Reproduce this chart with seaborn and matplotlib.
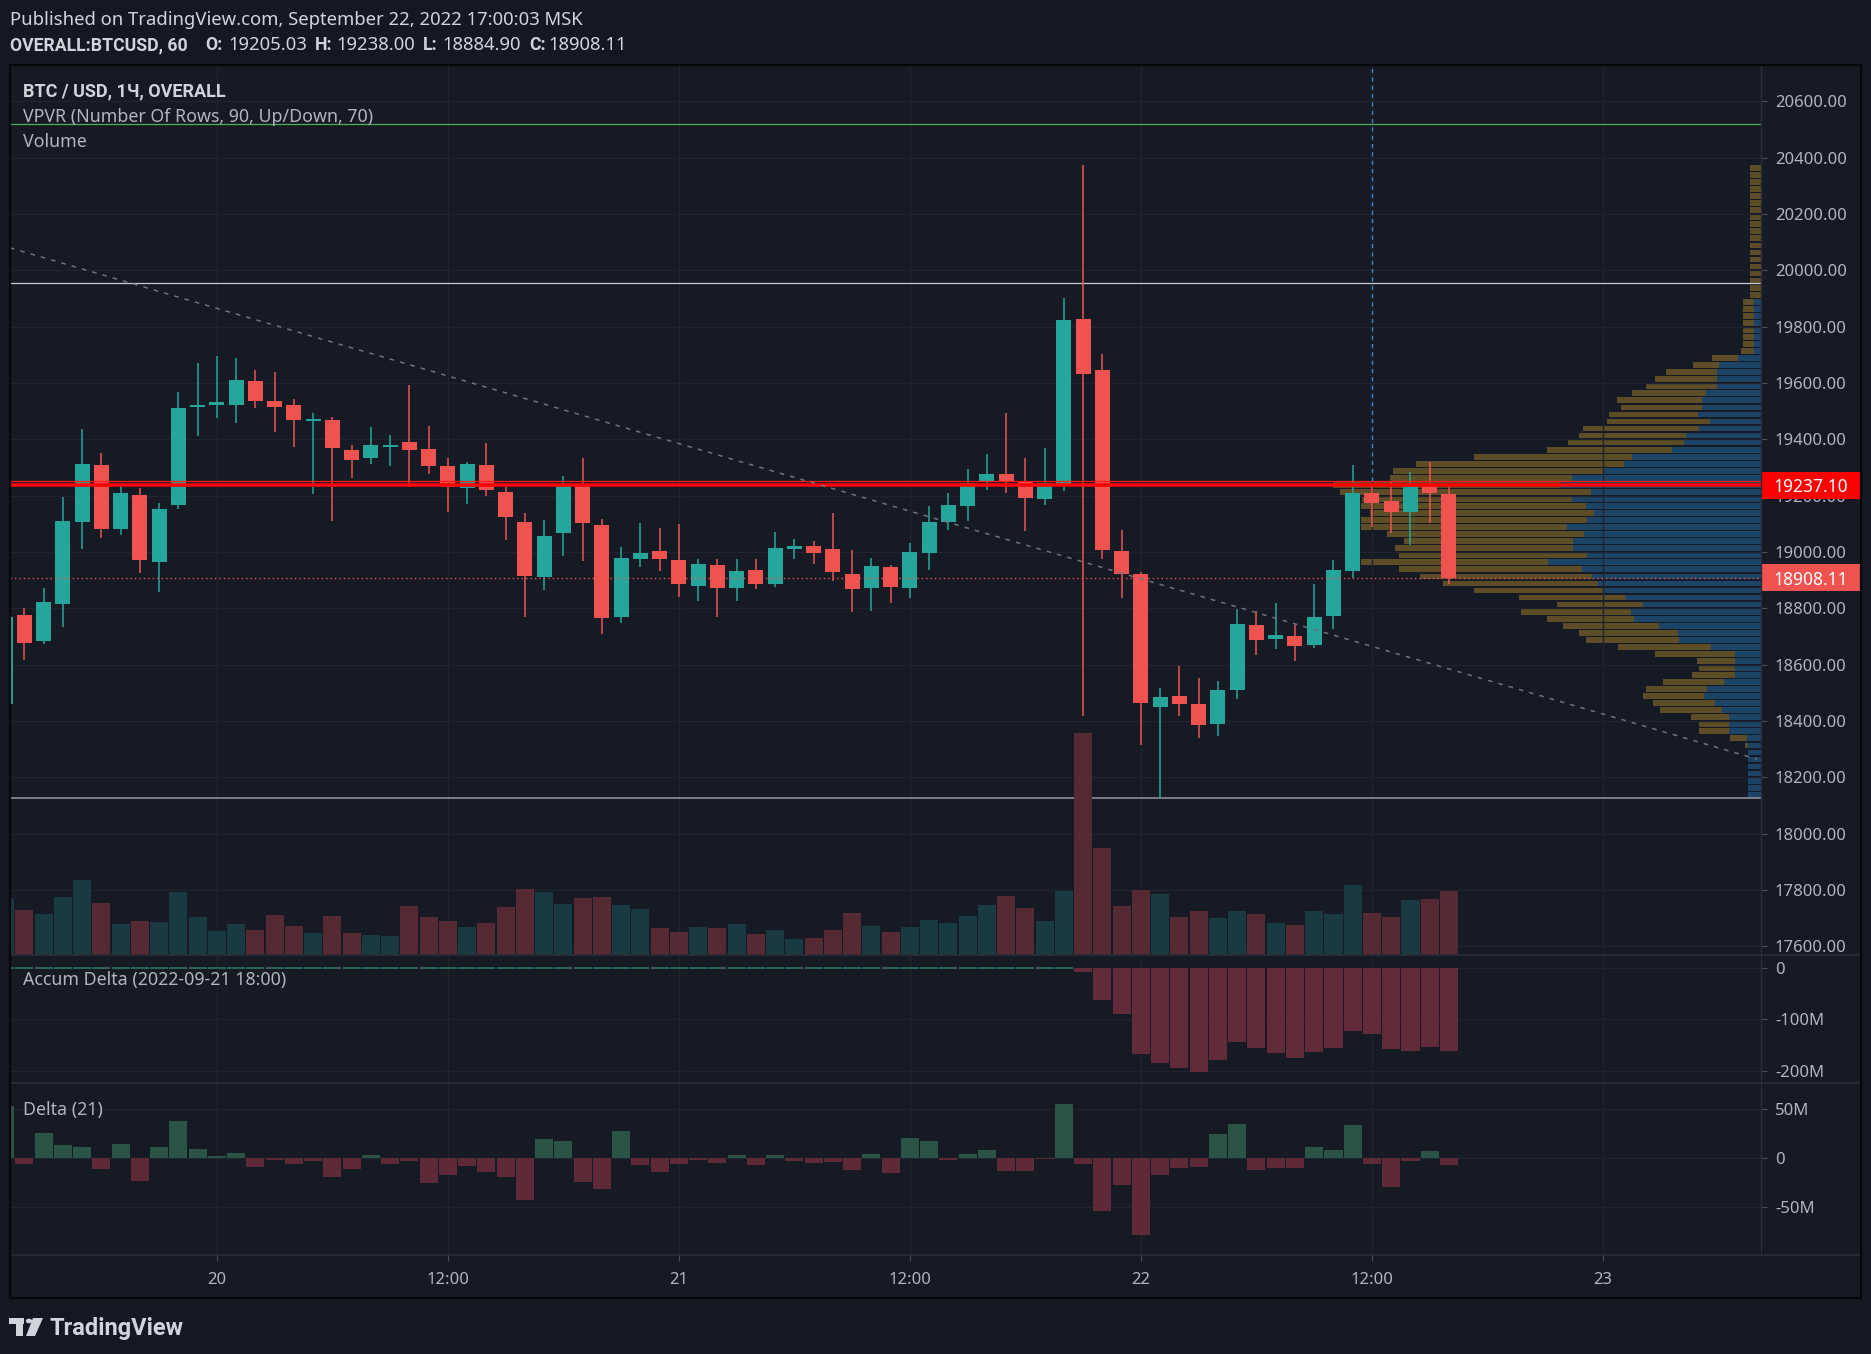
import numpy as np
import pandas as pd
import matplotlib
matplotlib.use("Agg")
import matplotlib.pyplot as plt
import matplotlib.transforms as mtransforms
from matplotlib.patches import Rectangle, Polygon, Circle
from matplotlib.lines import Line2D
import seaborn as sns

# ---------------------------------------------------------------- data
bar_start = "2022-09-19 13:00"
n_bars = 76
ref_time = "2022-09-22 00:00"

opens = [18460, 18776, 18685, 18817, 19108, 19309, 19083, 19202, 18966, 19168,
         19516, 19523, 19523, 19607, 19536, 19522, 19466, 19469, 19362, 19335,
         19372, 19390, 19366, 19305, 19228, 19309, 19213, 19107, 18912, 19069,
         19241, 19096, 18770, 18976, 19004, 18972, 18881, 18954, 18873, 18936,
         18888, 19012, 19021, 19011, 18922, 18873, 18947, 18873, 18998, 19108,
         19165, 19250, 19277, 19252, 19189, 19239, 19828, 19646, 19004, 18922,
         18450, 18489, 18461, 18390, 18510, 18741, 18693, 18702, 18670, 18774,
         18933, 19210, 19181, 19142, 19235, 19205.03]
highs = [18790, 18800, 18871, 19195, 19437, 19351, 19237, 19226, 19174, 19568,
         19671, 19696, 19689, 19646, 19639, 19543, 19493, 19479, 19380, 19444,
         19415, 19593, 19447, 19334, 19320, 19387, 19241, 19138, 19114, 19270,
         19334, 19117, 19018, 19103, 19085, 19099, 18975, 18975, 18975, 18975,
         19071, 19046, 19039, 19138, 19007, 18979, 18954, 19032, 19163, 19210,
         19295, 19348, 19493, 19334, 19369, 19902, 20374, 19703, 19078, 18928,
         18517, 18595, 18553, 18542, 18798, 18791, 18819, 18741, 18886, 18972,
         19309, 19237, 19248, 19283, 19320, 19238.00]
lows = [18440, 18617, 18673, 18735, 19011, 19051, 19062, 18927, 18859, 19154,
        19413, 19477, 19459, 19512, 19427, 19374, 19207, 19111, 19264, 19314,
        19306, 19232, 19278, 19143, 19172, 19200, 19044, 18770, 18866, 18987,
        18969, 18710, 18749, 18948, 18934, 18841, 18827, 18770, 18827, 18870,
        18877, 18976, 18959, 18898, 18788, 18792, 18820, 18838, 18937, 19079,
        19111, 19221, 19211, 19076, 19168, 19218, 18418, 18976, 18838, 18316,
        18126, 18418, 18340, 18347, 18478, 18634, 18656, 18614, 18660, 18727,
        18907, 19089, 19067, 19026, 19103, 18884.90]
closes = [18770, 18678, 18822, 19110, 19312, 19083, 19210, 18973, 19153, 19511,
          19522, 19533, 19611, 19537, 19516, 19470, 19473, 19370, 19328, 19380,
          19380, 19363, 19306, 19232, 19312, 19221, 19125, 18916, 19057, 19241,
          19104, 18767, 18979, 18996, 18976, 18888, 18957, 18873, 18933, 18888,
          19014, 19021, 18998, 18930, 18870, 18950, 18877, 19000, 19107, 19167,
          19245, 19277, 19250, 19193, 19245, 19824, 19633, 19008, 18923, 18464,
          18485, 18461, 18386, 18510, 18745, 18688, 18705, 18666, 18769, 18936,
          19210, 19173, 19142, 19231, 19210, 18908.11]
volume = [166, 131, 120, 169, 218, 152, 91, 99, 96, 183,
          111, 70, 91, 73, 117, 85, 64, 114, 64, 59,
          56, 143, 111, 99, 82, 93, 140, 192, 184, 149,
          166, 169, 146, 134, 79, 67, 82, 79, 91, 62,
          73, 47, 50, 73, 122, 85, 67, 82, 102, 93,
          114, 146, 172, 137, 99, 187, 645, 311, 143, 189,
          178, 111, 128, 108, 128, 120, 93, 88, 128, 120,
          204, 122, 111, 160, 163, 186]
delta_m = [53, -6.5, 25, 13, 11, -11, 14, -23, 11, 37,
           9, 2, 5, -8.6, -2, -6.5, -3.5, -19, -11, 3,
           -6, -3.5, -25, -17, -8, -14, -19, -42, 19, 17,
           -24, -31, 27, -7, -14, -6, -2, -5, 3, -7,
           3, -3, -5, -4, -12, 4, -15, 20, 17, -2,
           4, 8, -13, -13, -1, 55, -6.5, -54, -27, -78,
           -17, -10, -9, 24.5, 34, -12, -10, -10, 11, 8,
           33, -6.5, -29, -3.5, 7, -7.5]
accum_delta_m = [0, 0, 0, 0, 0, 0, 0, 0, 0, 0,
                 0, 0, 0, 0, 0, 0, 0, 0, 0, 0,
                 0, 0, 0, 0, 0, 0, 0, 0, 0, 0,
                 0, 0, 0, 0, 0, 0, 0, 0, 0, 0,
                 0, 0, 0, 0, 0, 0, 0, 0, 0, 0,
                 0, 0, 0, 0, 0, 0, -7, -62, -89, -167,
                 -185, -194, -202, -179, -144, -155, -165, -174, -163, -155,
                 -122, -128, -157, -161, -154, -161]

# Volume profile (90 rows from the visible low, bottom -> top)
vp_low = 18126.0
vp_row = 25.0
vp_total = [36, 36, 36, 36, 36, 36, 36, 45, 87, 174,
            174, 196, 283, 302, 330, 322, 274, 193, 174, 179,
            297, 400, 490, 510, 554, 599, 672, 571, 678, 804,
            890, 955, 1014, 1121, 1014, 1025, 1000, 1047, 1121, 1121,
            1095, 1121, 1118, 1179, 1198, 1039, 1030, 966, 804, 599,
            540, 510, 498, 431, 426, 392, 403, 361, 322, 297,
            266, 190, 137, 56, 50, 50, 50, 50, 50, 50,
            50, 30, 30, 30, 30, 30, 30, 30, 30, 30,
            30, 30, 30, 30, 30, 30, 30, 30, 30, 30]
vp_up = [36, 36, 36, 36, 36, 36, 36, 36, 39, 90,
         90, 90, 109, 129, 160, 151, 104, 73, 73, 73,
         73, 140, 230, 232, 286, 356, 364, 330, 378, 440,
         456, 473, 501, 596, 487, 526, 526, 496, 543, 487,
         468, 490, 529, 476, 563, 529, 442, 384, 361, 249,
         216, 210, 174, 143, 176, 165, 165, 154, 123, 123,
         123, 118, 64, 20, 20, 20, 20, 20, 20, 20,
         20, 0, 0, 0, 0, 0, 0, 0, 0, 0,
         0, 0, 0, 0, 0, 0, 0, 0, 0, 0]

price_ticks = [20600, 20400, 20200, 20000, 19800, 19600, 19400, 19200, 19000,
               18800, 18600, 18400, 18200, 18000, 17800, 17600]
acc_ticks = [0, -100, -200]
acc_labels = ["0", "-100M", "-200M"]
delta_ticks = [50, 0, -50]
delta_labels = ["50M", "0", "-50M"]
time_ticks = ["2022-09-20 00:00", "2022-09-20 12:00", "2022-09-21 00:00",
              "2022-09-21 12:00", "2022-09-22 00:00", "2022-09-22 12:00",
              "2022-09-23 00:00"]
time_labels = ["20", "12:00", "21", "12:00", "22", "12:00", "23"]

poc_price = 19237.10
vah_price = 19253.0
last_price = 18908.11
green_level = 20519.0
white_level = 19955.0
low_level = 18126.0
trend_times = ["2022-09-19 13:15", "2022-09-23 08:00"]
trend_prices = [20080.0, 18265.0]
crosshair_time = "2022-09-22 12:00"

# ---------------------------------------------------------------- prep
t0 = pd.Timestamp(ref_time)
times = pd.date_range(bar_start, periods=n_bars, freq="h")
hrs = ((times - t0) / pd.Timedelta(hours=1)).to_numpy(dtype=float)
def to_h(ts):
    return (pd.to_datetime(ts) - t0) / pd.Timedelta(hours=1)
tick_h = np.array([to_h(s) for s in time_ticks])
trend_h = np.array([to_h(s) for s in trend_times])

o = np.array(opens, float); h = np.array(highs, float)
l = np.array(lows, float); c = np.array(closes, float)
up = c >= o
df = pd.DataFrame({"t": hrs, "volume": volume, "delta": delta_m,
                   "accum": accum_delta_m,
                   "dir": np.where(up, "up", "down"),
                   "dsign": np.where(np.array(delta_m) >= 0, "pos", "neg")})

# ---------------------------------------------------------------- style
W, H = 1871, 1354
BG = "#141823"; PANE = "#161a25"; GRID = "#20242f"; SEP = "#2a2e39"
TXT = "#b2b5be"; HDR = "#d1d4dc"
UPC = "#26a69a"; DNC = "#ef5350"
VOL_UP = "#1a3a42"; VOL_DN = "#552a33"
DEL_UP = "#2a5446"; DEL_DN = "#5e2a38"; ACC_DN = "#622b3a"
VP_DN = "#5c4d26"; VP_UP = "#1c4466"
BOLD_FAM = ["Roboto", "DejaVu Sans"]

sns.set_theme(style="dark")
plt.rcParams["font.family"] = ["Noto Sans", "DejaVu Sans"]
plt.rcParams["axes.unicode_minus"] = False

fig = plt.figure(figsize=(W / 100, H / 100), dpi=100, facecolor=BG)

def fx(x): return x / W
def fy(y): return 1 - y / H
def rect(x0, y0, x1, y1): return [x0 / W, 1 - y1 / H, (x1 - x0) / W, (y1 - y0) / H]

L, R, FR = 10, 1761, 1861
TOP, MAIN_B, ACC_B, DEL_B, FRAME_B = 65, 955, 1083, 1255, 1298
XL, XR = -58.75, 32.21
YL, YT = 17569.5, 20729.0

fig.add_artist(Rectangle((fx(L), fy(FRAME_B)), fx(FR) - fx(L), fy(TOP) - fy(FRAME_B),
                         transform=fig.transFigure, facecolor=PANE, edgecolor="none", zorder=-5))

ax_vp = fig.add_axes(rect(L, TOP, R, MAIN_B), zorder=1)
ax_main = fig.add_axes(rect(L, TOP, R, MAIN_B), zorder=2)
ax_vol = ax_main.twinx()
ax_vol.set_zorder(3)
ax_acc = fig.add_axes(rect(L, MAIN_B, R, ACC_B), zorder=2)
ax_del = fig.add_axes(rect(L, ACC_B, R, DEL_B), zorder=2)

for a in (ax_vp, ax_main, ax_vol, ax_acc, ax_del):
    for s in a.spines.values():
        s.set_visible(False)
ax_vp.set_facecolor(PANE)
ax_main.set_facecolor("none")
ax_vol.set_facecolor("none")
ax_acc.set_facecolor(PANE)
ax_del.set_facecolor(PANE)

# ---------------------------------------------------------------- volume profile
rows = vp_low + vp_row * (np.arange(len(vp_total)) + 0.5)
ax_vp.barh(rows, vp_total, height=vp_row * 0.82, left=0, color=VP_DN, linewidth=0)
ax_vp.barh(rows, vp_up, height=vp_row * 0.82, left=0, color=VP_UP, linewidth=0)
ax_vp.set_xlim((R - L) * 2.8, 0)
ax_vp.set_ylim(YL, YT)
ax_vp.set_xticks([]); ax_vp.set_yticks([])

# ---------------------------------------------------------------- price pane
ax_main.set_axisbelow(True)
ax_main.grid(True, color=GRID, lw=1.0)
cols = np.where(up, UPC, DNC)
ax_main.vlines(hrs, l, h, colors=cols, lw=1.1, zorder=3)
ax_main.bar(hrs, np.maximum(np.abs(c - o), 4.0), bottom=np.minimum(o, c),
            width=0.78, color=cols, linewidth=0, zorder=4)

ax_main.axhline(green_level, color="#4caf50", lw=0.9, zorder=2)
ax_main.axhline(white_level, color="#c8cbd3", lw=0.9, zorder=2)
ax_main.axhline(low_level, color="#9598a1", lw=1.1, zorder=2)
ax_main.axhline(vah_price, color="#ff1a1a", lw=0.9, zorder=5)
ax_main.axhline(poc_price, color="#ff0000", lw=2.6, zorder=5)
ax_main.axhline(last_price, color=DNC, lw=1.0, ls=(0, (1, 2.2)), zorder=5)
ax_main.plot(trend_h, trend_prices, color="#6f727d", lw=1.1, ls=(0, (3, 4)), zorder=5)
ax_main.vlines(to_h(crosshair_time), vah_price, YT, color="#3f86cc", lw=1.0,
               ls=(0, (3, 3)), zorder=5)

ax_main.set_xlim(XL, XR)
ax_main.set_ylim(YL, YT)
ax_main.set_xticks(tick_h)
ax_main.set_xticklabels([])
ax_main.set_yticks(price_ticks)
ax_main.set_yticklabels([f"{p:.2f}" for p in price_ticks])
ax_main.yaxis.tick_right()
ax_main.tick_params(axis="y", which="both", right=True, left=False, length=4.3, width=0.8,
                    color="#4a4e59", pad=5.8, labelsize=12, labelcolor=TXT)
ax_main.tick_params(axis="x", length=0)

# volume (seaborn)
sns.barplot(data=df, x="t", y="volume", hue="dir", hue_order=["up", "down"],
            palette={"up": VOL_UP, "down": VOL_DN}, native_scale=True, dodge=False,
            width=0.94, saturation=1, errorbar=None, legend=False, linewidth=0, ax=ax_vol)
ax_vol.set_ylim(0, (MAIN_B - TOP) * 2.904)
ax_vol.set_yticks([])
ax_vol.set_xlabel(""); ax_vol.set_ylabel("")
ax_main.set_xlim(XL, XR)

# price label boxes
blend = mtransforms.blended_transform_factory(ax_main.transAxes, ax_main.transData)
bw = (FR - R) / (R - L)
for price, bg in ((poc_price, "#ff0000"), (last_price, DNC)):
    ax_main.add_patch(Rectangle((1.0, price - 48), bw, 96, transform=blend,
                                facecolor=bg, edgecolor="none", clip_on=False, zorder=8))
    ax_main.text(1.0 + bw / 2, price, f"{price:.2f}", transform=blend, ha="center",
                 va="center_baseline", color="white", fontsize=12.5, clip_on=False, zorder=9)

# ---------------------------------------------------------------- accum delta
nz = df[df["accum"] != 0]
zr = df[df["accum"] == 0]
sns.barplot(data=nz, x="t", y="accum", color=ACC_DN, native_scale=True, width=0.94,
            saturation=1, errorbar=None, linewidth=0, ax=ax_acc)
ax_acc.hlines(np.zeros(len(zr)), zr["t"] - 0.47, zr["t"] + 0.47, color="#2f6a55", lw=1.3)
ax_acc.set_axisbelow(True)
ax_acc.grid(True, color=GRID, lw=1.0)
ax_acc.set_xlim(XL, XR)
ax_acc.set_ylim(-223.3, 25.2)
ax_acc.set_xticks(tick_h); ax_acc.set_xticklabels([])
ax_acc.set_yticks(acc_ticks); ax_acc.set_yticklabels(acc_labels)
ax_acc.yaxis.tick_right()
ax_acc.tick_params(axis="y", right=True, left=False, length=4.3, width=0.8, color="#4a4e59",
                   pad=5.8, labelsize=12, labelcolor=TXT)
ax_acc.tick_params(axis="x", length=0)
ax_acc.set_xlabel(""); ax_acc.set_ylabel("")

# ---------------------------------------------------------------- delta
sns.barplot(data=df, x="t", y="delta", hue="dsign", hue_order=["pos", "neg"],
            palette={"pos": DEL_UP, "neg": DEL_DN}, native_scale=True, dodge=False,
            width=0.94, saturation=1, errorbar=None, legend=False, linewidth=0, ax=ax_del)
ax_del.set_axisbelow(True)
ax_del.grid(True, color=GRID, lw=1.0)
ax_del.set_xlim(XL, XR)
ax_del.set_ylim(-98, 75.8)
ax_del.set_yticks(delta_ticks); ax_del.set_yticklabels(delta_labels)
ax_del.yaxis.tick_right()
ax_del.tick_params(axis="y", right=True, left=False, length=4.3, width=0.8, color="#4a4e59",
                   pad=5.8, labelsize=12, labelcolor=TXT)
ax_del.set_xticks(tick_h)
ax_del.set_xticklabels(time_labels)
ax_del.tick_params(axis="x", bottom=True, length=4, width=0.8, color="#4a4e59", pad=8,
                   labelsize=12, labelcolor=TXT)
ax_del.set_xlabel(""); ax_del.set_ylabel("")

# ---------------------------------------------------------------- separators / frame
def fline(xs, ys, color, lw, z=20):
    fig.add_artist(Line2D([fx(x) for x in xs], [fy(y) for y in ys], transform=fig.transFigure,
                          color=color, lw=lw, zorder=z))
fline([R, R], [TOP, DEL_B], SEP, 1.0)
fline([L, FR], [MAIN_B, MAIN_B], SEP, 1.2)
fline([L, FR], [ACC_B, ACC_B], SEP, 1.2)
fline([L, FR], [DEL_B, DEL_B], SEP, 1.2)
fig.add_artist(Rectangle((fx(L), fy(FRAME_B)), fx(FR) - fx(L), fy(TOP) - fy(FRAME_B),
                         transform=fig.transFigure, facecolor="none", edgecolor="#05070a",
                         lw=1.6, zorder=21))

# ---------------------------------------------------------------- texts
fig.text(fx(10), fy(20), "Published on TradingView.com, September 22, 2022 17:00:03 MSK",
         fontsize=13.3, color=HDR, va="center")
seg = [(10, "OVERALL:BTCUSD, 60", True), (205, "O:", True), (228, "19205.03", False),
       (315, "H:", True), (336, "19238.00", False), (423, "L:", True),
       (442, "18884.90", False), (529, "C:", True), (548, "18908.11", False)]
for x, s, is_bold in seg:
    if is_bold:
        fig.text(fx(x), fy(45), s, fontsize=12.7, color=HDR, va="center", weight="bold",
                 family=BOLD_FAM)
    else:
        fig.text(fx(x), fy(45), s, fontsize=13.3, color=HDR, va="center")

fig.text(fx(23), fy(91), "BTC / USD, 1Ч, OVERALL", fontsize=13.0, color=HDR, va="center",
         weight="bold", family=BOLD_FAM)
fig.text(fx(23), fy(117), "VPVR (Number Of Rows, 90, Up/Down, 70)", fontsize=12.8,
         color=TXT, va="center")
fig.text(fx(23), fy(142), "Volume", fontsize=12.8, color=TXT, va="center")
fig.text(fx(23), fy(980), "Accum Delta (2022-09-21 18:00)", fontsize=12.8, color=TXT,
         va="center")
fig.text(fx(23), fy(1110), "Delta (21)", fontsize=12.8, color=TXT, va="center")

# TradingView logo
logo = "#d1d4dc"
fig.add_artist(Rectangle((fx(9), fy(1324)), fx(24) - fx(9), fy(1318) - fy(1324),
                         transform=fig.transFigure, facecolor=logo, edgecolor="none"))
fig.add_artist(Rectangle((fx(16), fy(1336)), fx(23) - fx(16), fy(1318) - fy(1336),
                         transform=fig.transFigure, facecolor=logo, edgecolor="none"))
fig.add_artist(Circle((fx(29), fy(1321)), 3.2 / W, transform=fig.transFigure,
                      facecolor=logo, edgecolor="none"))
fig.add_artist(Polygon([(fx(33), fy(1318)), (fx(43), fy(1318)), (fx(35), fy(1336)),
                        (fx(26), fy(1336))], closed=True, transform=fig.transFigure,
                       facecolor=logo, edgecolor="none"))
fig.text(fx(49), fy(1328), "TradingView", fontsize=17.0, weight="bold", color=logo,
         va="center", family=BOLD_FAM)

fig.savefig("out.png", dpi=100, facecolor=BG)
